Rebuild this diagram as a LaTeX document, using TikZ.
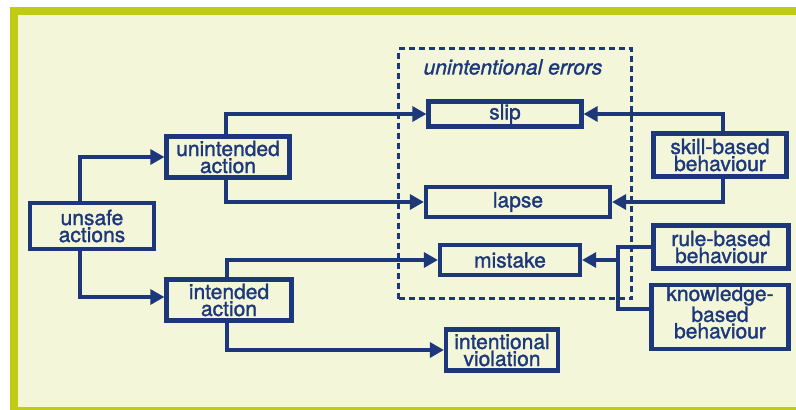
\documentclass[tikz,border=0pt]{standalone}
\usepackage{fontspec}
\newfontfamily\boxfont{TeX Gyre Heros}[FakeBold=1.4]
\newfontfamily\noteFont{TeX Gyre Heros}[FakeBold=1.2, UprightFont=*-Italic]
\usetikzlibrary{arrows.meta, positioning}

\definecolor{navy}{HTML}{1C377A}
\definecolor{cream}{HTML}{F3F6D8}
\definecolor{lime}{HTML}{BFCC12}

\begin{document}
\begin{tikzpicture}[
    x=1pt, y=-1pt,
    % Styles
    actbox/.style={draw=navy, line width=4.2pt, text=navy, align=center, inner sep=1pt,
                   font=\boxfont\fontsize{21}{17}\selectfont},
    link/.style={draw=navy, line width=3.2pt},
    conn/.style={link, -{Triangle[length=14pt, width=15pt]}},
    errbox/.style={draw=navy, line width=3.6pt, dash pattern=on 6pt off 4pt}
]
    \useasboundingbox (0,0) rectangle (796,410);

    % Frame
    \fill[lime] (10,7) rectangle (796,410);
    \fill[cream] (18,15) rectangle (796,407);

    % Unintentional errors region
    \node[errbox, minimum width=233, minimum height=250] (errors) at (515,173.5) {};
    \node[text=navy, font=\noteFont\fontsize{21}{17}\selectfont] (errlabel) at (513,67) {unintentional errors};

    % Left side
    \node[actbox, minimum width=124, minimum height=46] (unsafe) at (92,226) {unsafe\\actions};
    \node[actbox, minimum width=123, minimum height=41] (unintended) at (228,157) {unintended\\action};
    \node[actbox, minimum width=125, minimum height=41] (intended) at (229,300) {intended\\action};

    % Error types
    \node[actbox, minimum width=153, minimum height=25] (slip) at (505,114) {slip};
    \node[actbox, minimum width=184, minimum height=30] (lapse) at (518,202) {lapse};
    \node[actbox, minimum width=140, minimum height=30] (mistake) at (510,260) {mistake};
    \node[actbox, minimum width=112, minimum height=41] (violation) at (502,350) {intentional\\violation};

    % Behaviour levels
    \node[actbox, minimum width=133, minimum height=43] (skill) at (720,155) {skill-based\\behaviour};
    \node[actbox, minimum width=135, minimum height=43] (rule) at (721,247) {rule-based\\behaviour};
    \node[actbox, minimum width=137, minimum height=57, text depth=10pt,
          font=\boxfont\fontsize{21}{16.5}\selectfont]
        (knowledge) at (720,317) {knowledge-\\based\\behaviour};
    \coordinate (join) at (618,260);

    % Connectors
    \draw[conn] ([xshift=-12pt]unsafe.north) |- (unintended.west);
    \draw[conn] ([xshift=-12pt]unsafe.south) |- ([yshift=3pt]intended.west);
    \draw[conn] ([xshift=-2pt]unintended.north) |- (slip.west);
    \draw[conn] ([xshift=-2pt]unintended.south) |- (lapse.west);
    \draw[conn] ([xshift=-2pt]intended.north) |- (mistake.west);
    \draw[conn] ([xshift=-2pt]intended.south) |- (violation.west);
    \draw[conn] ([xshift=3pt]skill.north) |- (slip.east);
    \draw[conn] ([xshift=3pt]skill.south) |- (lapse.east);
    \draw[link] (rule.west) -| (join) |- ([yshift=8pt]knowledge.west);
    \draw[conn] (join) -- (mistake.east);
\end{tikzpicture}
\end{document}
